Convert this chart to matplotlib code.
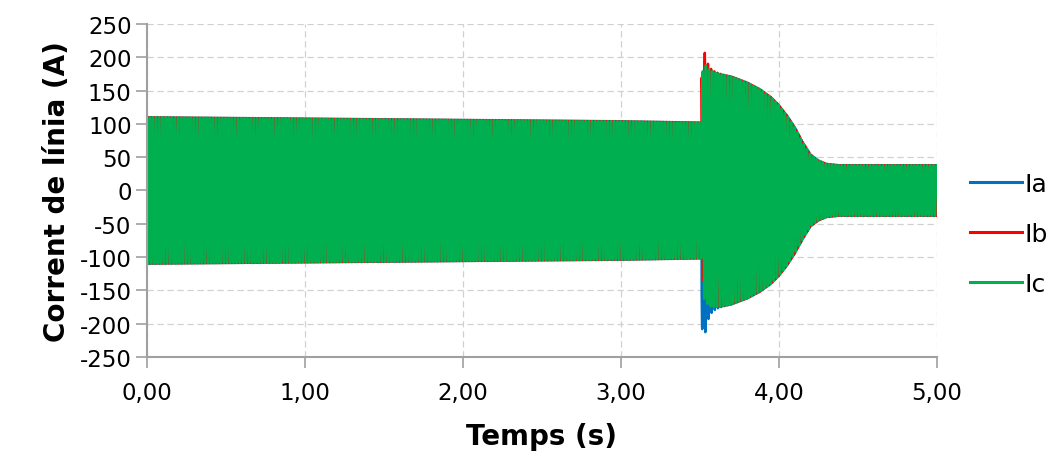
import numpy as np
import matplotlib
matplotlib.use('Agg')
import matplotlib.pyplot as plt

# --- valeurs ---
# enveloppe (amplitude crête) du courant de ligne
env_t = [0.00, 1.00, 2.00, 3.00, 3.51, 3.52, 3.60, 3.70, 3.80, 3.88, 3.95, 4.00,
         4.05, 4.10, 4.15, 4.20, 4.25, 4.30, 4.38, 5.00]
env_amp = [110, 108, 106, 104, 102, 178, 176, 171, 162, 152, 140, 128,
           113, 95, 73, 54, 45, 40, 38, 38]

# composante continue au moment de la perturbation (t = 3,51 s)
t_fault = 3.51
dc_offset = {'Ia': -90, 'Ib': 65, 'Ic': 30}
dc_tau = 0.025
freq = 50.0
phase_deg = {'Ia': 25, 'Ib': -95, 'Ic': 145}

series_names = ['Ia', 'Ib', 'Ic']
colors = {'Ia': '#0070C0', 'Ib': '#FF0000', 'Ic': '#00B050'}

x_ticks = [0, 1, 2, 3, 4, 5]
x_labels = ['0,00', '1,00', '2,00', '3,00', '4,00', '5,00']
y_ticks = [-250, -200, -150, -100, -50, 0, 50, 100, 150, 200, 250]
y_labels = [str(v) for v in y_ticks]

plt.rcParams['font.family'] = ['DejaVu Sans']

t = np.linspace(0, 5, 50001)
amp = np.interp(t, env_t, env_amp)
after = t >= t_fault

fig = plt.figure(figsize=(10.57, 4.52), dpi=100)
ax = fig.add_axes([0.139, 0.208, 0.7475, 0.7367])

for name in series_names:
    ph = np.deg2rad(phase_deg[name])
    i = amp * np.sin(2 * np.pi * freq * t + ph)
    i[after] += dc_offset[name] * np.exp(-(t[after] - t_fault) / dc_tau)
    ax.plot(t, i, color=colors[name], lw=1.8, label=name)

ax.set_xlim(0, 5)
ax.set_ylim(-250, 250)
ax.set_xticks(x_ticks)
ax.set_xticklabels(x_labels)
ax.set_yticks(y_ticks)
ax.set_yticklabels(y_labels)
ax.tick_params(axis='both', labelsize=16.5, colors='#a0a0a0', labelcolor='black',
               length=8, width=1.2, direction='out')
ax.tick_params(axis='x', pad=9)
ax.tick_params(axis='y', pad=3)

ax.grid(True, ls=(0, (5, 3)), color='#d0d0d0', lw=0.9)
ax.set_axisbelow(True)
for s in ['top', 'right']:
    ax.spines[s].set_visible(False)
for s in ['left', 'bottom']:
    ax.spines[s].set_color('#a0a0a0')
    ax.spines[s].set_linewidth(1.5)

ax.set_xlabel('Temps (s)', fontsize=20, fontweight='bold', labelpad=13)
ax.set_ylabel('Corrent de línia (A)', fontsize=20, fontweight='bold', labelpad=6)

leg = ax.legend(loc='center left', bbox_to_anchor=(1.013, 0.37), frameon=False,
                fontsize=18, handlelength=2.1, handletextpad=0.1, labelspacing=1.05)
for line in leg.get_lines():
    line.set_linewidth(2.2)

fig.savefig('out.png', dpi=100)
